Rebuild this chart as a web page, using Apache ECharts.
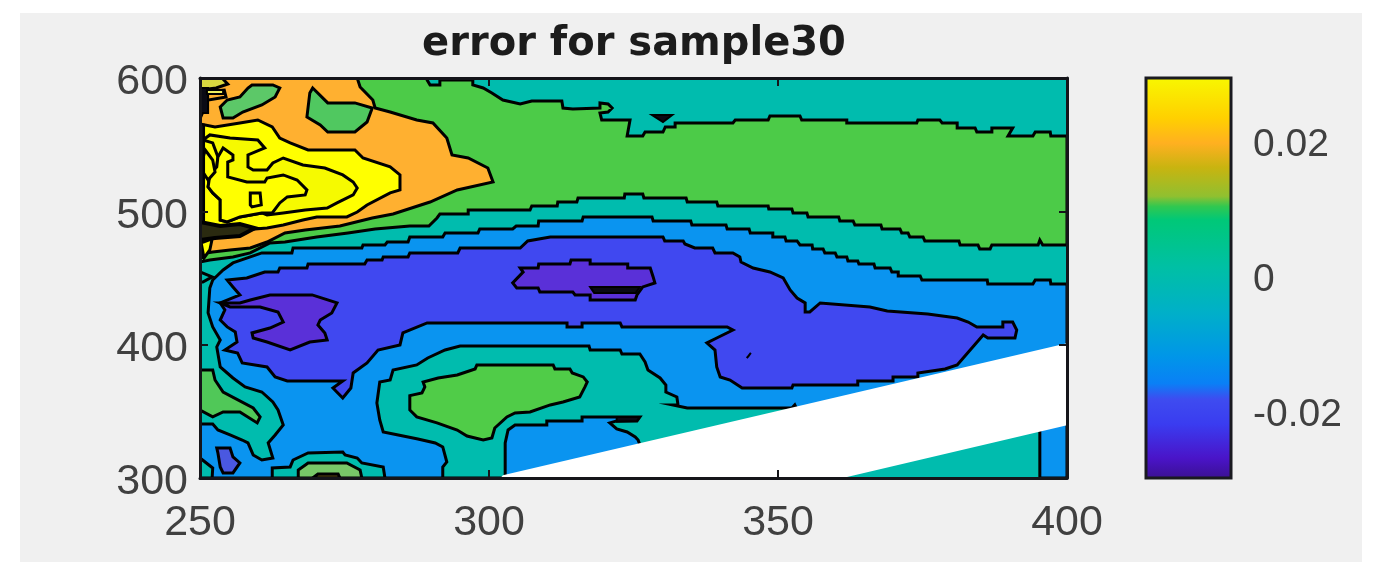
<!DOCTYPE html>
<html>
<head>
<meta charset="utf-8">
<style>
  html, body { margin: 0; background: #fff; }
  #main { width: 1380px; height: 581px; }
</style>
<script src="https://cdn.jsdelivr.net/npm/echarts@6/dist/echarts.min.js"></script>
</head>
<body>
<div id="main"></div>
<script>
// axis ticks
const xTicks = [250, 300, 350, 400];
const yTicks = [300, 400, 500, 600];
const barTicks = [-0.02, 0, 0.02];

// colour bar, value -> colour
const barValues = [-0.0296, -0.0265, -0.0215, -0.0178, -0.0155, -0.0115, -0.005, 0.0017, 0.0085, 0.0105, 0.012, 0.0162, 0.0198, 0.0235, 0.0296];
const barColors = ['#3a1090', '#4a14c8', '#3a3cf0', '#3e4cf0', '#0a80f6', '#0096e8', '#00b0c8', '#00c0a4', '#00c878', '#30c850', '#90c030', '#c8b410', '#ffb020', '#ffd000', '#f8f800'];

// filled contour outlines, [x, y]
const greenBand = [[289.3,600],[289.3,598.5],[289.8,594.8],[291.5,594.8],[291.5,598.5],[297.2,598.5],[297.2,594.8],[299,592.5],[300.5,588.8],[302.4,583.5],[305.4,580.5],[307.4,582.8],[312.6,582.8],[312.8,577.5],[314.5,576.8],[319.2,577.5],[319.2,581.3],[320.6,580.5],[321.3,577.5],[320.6,574.5],[319.2,573.8],[319.5,568.5],[324.4,568.5],[323.9,556.5],[326.6,556.5],[327,559.5],[330.1,559.5],[330.5,563.3],[332.2,563.3],[332.2,566.3],[342.2,566.3],[342.6,568.5],[348.3,568.5],[348.6,571.5],[353.8,571.5],[354.1,568.5],[361.9,568.5],[361.9,566.3],[374,566.3],[374.2,568.5],[378,568.5],[378.4,566.3],[381,566.3],[381,562.5],[384.1,562.5],[384.4,559.5],[387,559.5],[387,562.5],[390.6,562.5],[389.8,556.5],[394.1,556.5],[394.5,559.5],[397.1,559.5],[397.2,556.5],[400,556.5],
  [400,474.8],[395.8,474.8],[395.3,478.5],[395,474.8],[387,474.8],[386.7,471.8],[384.9,471.8],[384.6,474.8],[381.5,474.8],[381.3,477.8],[375.4,477.8],[375.1,480.8],[372.8,480.8],[372.5,483.8],[371.4,483.8],[371.1,486.8],[368,486.8],[367.8,489.8],[363.3,489.8],[363,492.8],[360.7,492.8],[360.5,495.8],[355.2,495.8],[355,498.8],[352.6,498.8],[352.4,501.8],[348.4,501.8],[348.3,504],[339.6,504],[339.4,507],[334.3,507],[334.1,510],[326.8,510],[326.6,513],[323.5,513],[323.4,510],[315.4,510],[315.2,507],[311.9,507],[311.8,504],[307.4,504],[307.1,501],[296.4,501],[296.4,498],[291.5,498],[291,495],[289.6,489],[286.3,489],[280.3,486.8],[275.6,483.8],[270.2,480.8],[264.7,477],[262.1,476.3],[258.7,468.8],[255.7,465.8],[251.7,463.5],[250,462],[250,600]];
const tealSpot = [[328.2,572.3],[331.7,572.3],[330.1,567]];
const orangeZone = [[277.2,600],[277.7,593.3],[279.9,583.5],[280.3,577.5],[282.9,574.5],[287.5,568.5],[290.3,566.3],[292.7,555],[293.6,542.3],[296.4,540],[299.8,532.5],[300.7,522],[294.5,516],[289.8,507],[283.4,498],[279.8,495],[274.2,489],[268.2,486],[264.7,483.8],[261.6,477],[258.7,472.5],[255.2,471],[252.2,469.5],[250,468],[250,600]];
const greenBlobA = [[259,594.8],[262.6,594.8],[263.8,592.5],[263,585.8],[260.7,579.8],[257.4,574.5],[255.7,570],[254,570],[253.5,578.3],[254.7,583.5],[256.9,585.8],[258.3,592.5]];
const greenBlobB = [[269.5,592.5],[272.1,581.3],[276.8,581.3],[279.8,577.5],[278.9,567],[276.8,559.5],[272.1,559.5],[270.8,564.8],[268.5,570.8],[269,588.8]];
const yellowZone = [[250,565.5],[252.6,563.3],[256.9,566.3],[260,568.5],[262.5,563.3],[263.8,555],[265.6,551.3],[268.7,546],[276.8,546],[278.2,540],[282.9,533.3],[284.6,527.3],[284.6,516],[282.9,513.8],[278.9,504.8],[277.2,499.5],[275.4,495.8],[270.2,495.8],[267.8,493.5],[264.4,489.8],[261.6,487.5],[257.4,486],[250,484.5]];
const yellowInner = [[250.5,553.5],[251.7,557.3],[255.2,555],[260,553.5],[261.2,547.5],[258.3,542.3],[258.3,533.3],[259.2,531],[261.6,531],[262.6,536.3],[264.4,540],[267.8,534.8],[271.6,532.5],[274.7,527.3],[276.5,522],[277.2,517.5],[276.5,512.3],[273.7,506.3],[272,502.5],[268.2,501],[264.4,498.8],[261.6,497.3],[260.7,498.8],[256.9,495.8],[254.7,492],[253.5,493.5],[253.5,508.5],[252.2,513.8],[251.4,518.3],[251.7,527.3],[252.9,533.3],[253.1,540.8],[252.2,551.3]];
const yellowPocket = [[254,547.5],[255.7,542.3],[255.7,538.5],[254.8,537],[254.8,525.8],[258.1,522],[261.2,522],[261.6,525],[264.4,527.3],[266.8,523.5],[268.5,516],[268.2,512.3],[265.1,510.8],[263.8,506.3],[262.5,498.8],[260.7,498.8],[256.9,495.8],[254.7,492],[253.5,493.5],[253.5,508.5],[252.2,513.8],[251.4,518.3],[251.7,527.3],[252.9,533.3],[253.1,540.8]];
const yellowSquare = [[258.7,513.8],[260.4,513.8],[260.6,504.8],[259,503.3],[258.7,504.8]];
const edgeLoop = [[250.9,546],[252.2,538.5],[252.6,529.5],[251.4,523.5],[250.5,529.5],[250.5,540]];
const cornerTop = [[250,600],[253.8,600],[254.8,595.5],[252.8,592.5],[250,591]];
const cornerMid = [[250.5,589.5],[254.2,591],[254.5,585.8],[251.4,583.5],[250.5,574.5]];
const cornerBar = [[250,592.5],[251.4,592.5],[251.4,573.8],[250,573.8]];
const cornerStreak = [[251.2,591],[254,591],[254,588],[251.2,588]];
const edgeBar = [[250,565],[250.7,565],[250.7,465],[250,465]];
const edgeKnot = [[250,492],[253.5,489],[256.9,490.5],[259.5,487.5],[256.9,481.5],[252.6,480],[250,478.5]];
const edgeSpot = [[250.2,476.3],[252.1,479.3],[251.7,471],[250.7,465]];
const edgeTeal = [[250,454.5],[252.1,450.8],[250.5,447],[250,447]];
const blueZone = [[251.7,442.5],[252.2,448.5],[254,456],[255.7,461.3],[258.7,465.8],[260.7,468.8],[265.9,468.8],[266.1,472.5],[278,472.5],[278.2,474.8],[282,474.8],[282.4,477],[286,477],[286.3,480.8],[292,480.8],[292.4,483.8],[298.1,483.8],[298.4,486.8],[304.1,486.8],[304.7,489],[308.5,489],[308.6,492.8],[316.1,492.8],[316.3,495.8],[328.2,495.8],[328.4,492.8],[334.9,492.8],[335.1,489.8],[341,489.8],[341.2,486.8],[345,486.8],[345.2,483.8],[349.1,483.8],[349.1,480.8],[351.2,480.8],[351.4,477.8],[353.3,477.8],[353.8,474.8],[355.9,474.8],[356,471.8],[357.8,471.8],[358.1,468.8],[359.9,468.8],[360.2,465.8],[361.9,465.8],[362.1,462.8],[363.8,462.8],[364,460.5],[366.6,460.5],[366.8,457.5],[369.4,457.5],[369.7,454.5],[370.8,454.5],[370.8,451.5],[374.6,451.5],[374.9,448.5],[386.2,448.5],[386.3,445.5],[394.1,445.5],[394.5,448.5],[397.1,448.5],[397.2,445.5],[400,445.5],
  [400,380],[302,300],[250,300],[250,340.5],[252.2,340.5],[253.1,336],[255.2,332.3],[257.3,328.5],[258.3,326.3],[259.2,317.3],[260.7,313.5],[262.6,315],[261.8,326.3],[263,332.3],[264.4,339.8],[263.5,351],[262.6,357],[260.7,364.5],[257.8,368.3],[255.7,375],[253.5,383.3],[252.9,398.3],[253.5,403.5],[252.2,413.3],[251.4,423.8]];
const leftGreen = [[250,381],[252.2,381],[252.6,373.5],[254,364.5],[259.2,352.5],[260.4,345.8],[259.9,341.3],[256.9,349.5],[254,349.5],[252.2,345.8],[250,351]];
const cornerTeal = [[250,315],[252.2,307.5],[252.1,300],[250,300]];
const lowerBlob = [[252.9,322.5],[255.2,322.5],[255.7,315.8],[256.9,311.3],[255.7,303.8],[254,303.8],[253.5,308.3],[253.1,318.8]];
const archTeal = [[262.5,300],[262.5,307.5],[265.6,308.3],[266.1,313.5],[268.7,318.8],[274.7,319.5],[275.1,317.3],[277.2,315],[278,311.3],[281.7,308.3],[282,300]];
const archGreen = [[267,300],[267,306],[268.7,311.3],[275.4,311.3],[277.7,306],[278,300]];
const archCore = [[269.5,300],[270.4,303],[273.9,303],[274.2,300]];
const indigoZone = [[254.7,448.5],[258.1,450],[261.2,454.5],[263.5,454.5],[263.8,457.5],[268.5,457.5],[268.7,460.5],[278.5,460.5],[278.9,463.5],[281.5,463.5],[281.7,465.8],[286,465.8],[286.3,468.8],[294.6,468.8],[295,472.5],[305.4,472.5],[306.7,477.8],[310.6,480.8],[330.1,480.8],[330.4,477.8],[333.6,477.8],[333.9,475.5],[335.6,472.5],[338.7,472.5],[339.1,468.8],[342.2,468.8],[343.4,465.8],[343.6,462],[345.7,457.5],[348.6,454.5],[350.9,450],[352.1,441],[353.3,435],[354.7,431.3],[354.7,424.5],[355.5,424.5],[357.3,431.3],[365.9,428.3],[368.9,425.3],[375.9,423],[381,420],[382.9,417],[384.4,413.3],[388.9,413.3],[388.9,417],[390.6,417],[391.3,411],[391,405],[386.3,405],[385.5,407.3],[381,384.8],[378.9,381.8],[374.2,378.8],[374.2,375.8],[369.9,375.8],[369.9,372.8],[363.8,372.8],[363.8,369.8],[352.6,369.8],[352.4,367.5],[343.8,367.5],[341.7,373.5],[340,375.8],[339.4,383.3],[339.1,396],[337.7,401.3],[339.4,405],[342.2,411],[341.2,413.3],[323,413.3],[322.7,416.3],[316.1,416.3],[316.1,413.3],[313.5,413.3],[313.5,416.3],[289.3,416.3],[285.1,408.8],[284.6,399.8],[280.8,396],[278.9,386.3],[276.5,378.8],[276.1,367.5],[274.7,360],[273,367.5],[274.7,372.8],[265.1,372.8],[263,375.8],[261.6,383.3],[257.3,386.3],[256.5,393.8],[254.3,396],[256.4,402],[256.1,409.5],[254.7,413.3],[253.5,418.5],[254.3,426],[253.5,431.3],[256.9,437.3],[255.7,443.3]];
const indigoDot = [[344.6,390],[345.3,393.8],[344.9,391.5]];
const purpleLeft = [[253.5,431.3],[256.9,431.3],[258.7,433.5],[262.1,437.3],[269.4,437.3],[273.7,431.3],[272.8,423.8],[270.8,418.5],[270.4,414.8],[271.6,408.8],[272,403.5],[269,402],[265.6,396],[261.6,402],[259.2,405],[259,408.8],[262.1,412.5],[264.4,417],[263.5,424.5],[260.4,428.3],[255.2,428.3]];
const purpleMid = [[305.4,457.5],[308.5,457.5],[308.6,460.5],[314,460.5],[314.2,463.5],[317.5,463.5],[317.5,460.5],[324,460.5],[324,457.5],[327.9,457.5],[328.4,450.8],[328.7,446.3],[326.6,443.3],[325.6,437.3],[325.3,433.5],[317.5,433.5],[317.5,437.3],[314.9,437.3],[314.5,439.5],[308.8,439.5],[308.5,442.5],[304.8,442.5],[304.1,446.3],[305.9,454.5]];
const purpleCore = [[317.5,443.3],[326.1,443.3],[325.4,438.8],[318.2,438.8]];
const tealIsland = [[292,300],[292,308.3],[292.7,312],[292,323.3],[290.7,326.3],[287.7,329.3],[284.3,332.3],[281.7,334.5],[281.1,343.5],[280.6,356.3],[281.1,372],[282.9,373.5],[283.4,381],[287.5,384.8],[289.4,390],[292.4,396],[295,399],[317.3,399],[317.5,396],[322.7,396],[323,393],[326.1,393],[327,387],[327.5,381],[329.6,375],[330.6,369.8],[330.6,364.5],[332.5,360.8],[332.7,354.8],[331.8,354.8],[334.3,352.5],[352.4,352.5],[352.9,354.8],[354,345],[303,300]];
const islandGreen = [[286.3,361.8],[286.3,351],[287.5,345.8],[291,341.3],[294.5,336],[296.2,331.5],[299,328.5],[300.5,330],[301,337.5],[303.1,345.8],[304.5,348.8],[307.1,349.5],[310.6,354.8],[312.8,357],[315.7,360.8],[316.6,368.3],[317,372],[316.3,375.8],[314.4,378.8],[314,381.8],[311.4,381.8],[311.1,384.8],[297.9,384.8],[297.6,381.8],[294.5,377.3],[291.2,375],[288.6,372],[288.9,368.3],[288.4,363.8]];
const islandBlue = [[302.8,300],[302.8,326.3],[303.3,336],[304.5,339.8],[310,339.8],[310,342.8],[316.1,342.8],[316.1,345.8],[326.1,345.8],[325.6,342.8],[322.1,342.8],[320.9,341.3],[322.1,336.8],[323.9,334.5],[325.3,330.8],[325.8,328.5],[326.5,320],[310,300]];
const islandKnot = [[322.1,345.8],[326.1,345.8],[325.6,342.8],[322.1,342.3]];
const cornerBlue = [[395.3,345],[400,345],[400,300],[395.3,300]];
const blankStrip = [[302,300],[302.4,302],[400,401],[400,339.6],[361.2,300]];
const fullBox = [[250,300],[400,300],[400,600],[250,600]];

const TEAL = '#00bcae';
const GREEN = '#4ccb48';
const ORANGE = '#ffb030';
const YELLOW = '#ffff00';
const BLUE = '#0a94f0';
const INDIGO = '#4048f0';
const PURPLE = '#5a30d8';
const INK = '#0a0a14';

// paint order matters, later ones sit on the earlier ones
const layers = [
  { pts: fullBox, fill: TEAL, line: 0 },
  { pts: greenBand, fill: GREEN, line: 3 },
  { pts: tealSpot, fill: INK, line: 2 },
  { pts: orangeZone, fill: ORANGE, line: 3 },
  { pts: greenBlobA, fill: '#5cc868', line: 3 },
  { pts: greenBlobB, fill: '#50c860', line: 3 },
  { pts: yellowZone, fill: YELLOW, line: 3 },
  { pts: yellowInner, fill: '#f6fa00', line: 3 },
  { pts: yellowPocket, fill: YELLOW, line: 3 },
  { pts: yellowSquare, fill: YELLOW, line: 3 },
  { pts: edgeLoop, fill: YELLOW, line: 3 },
  { pts: cornerTop, fill: '#d8d840', line: 3 },
  { pts: cornerMid, fill: ORANGE, line: 3 },
  { pts: cornerBar, fill: INK, line: 2 },
  { pts: cornerStreak, fill: '#f0f060', line: 2 },
  { pts: edgeBar, fill: INK, line: 2 },
  { pts: edgeKnot, fill: '#2a2a10', line: 4 },
  { pts: edgeSpot, fill: YELLOW, line: 3 },
  { pts: blueZone, fill: BLUE, line: 3 },
  { pts: edgeTeal, fill: TEAL, line: 3 },
  { pts: leftGreen, fill: '#50c858', line: 3 },
  { pts: cornerTeal, fill: TEAL, line: 3 },
  { pts: lowerBlob, fill: '#4a58e0', line: 3 },
  { pts: archTeal, fill: TEAL, line: 3 },
  { pts: archGreen, fill: '#78c868', line: 3 },
  { pts: archCore, fill: '#5a4a10', line: 3 },
  { pts: indigoZone, fill: INDIGO, line: 3 },
  { pts: indigoDot, fill: INDIGO, line: 2 },
  { pts: purpleLeft, fill: PURPLE, line: 3 },
  { pts: purpleMid, fill: PURPLE, line: 3 },
  { pts: purpleCore, fill: INK, line: 2 },
  { pts: tealIsland, fill: TEAL, line: 3 },
  { pts: islandGreen, fill: '#50cc48', line: 3 },
  { pts: islandBlue, fill: BLUE, line: 3 },
  { pts: islandKnot, fill: INK, line: 2 },
  { pts: cornerBlue, fill: BLUE, line: 3 },
  { pts: blankStrip, fill: '#ffffff', line: 0 }
];

const chart = echarts.init(document.getElementById('main'));

const labelFont = { fontFamily: '"Liberation Sans", sans-serif', fontSize: 43, color: '#404040' };
const boxLine = { show: true, lineStyle: { color: '#15151a', width: 3 } };
const boxTick = { show: true, inside: true, length: 8, lineStyle: { color: '#15151a', width: 2 } };

function mainX(position, showLabel) {
  return {
    type: 'value', gridIndex: 0, position: position, min: 250, max: 400, interval: 50, z: 10,
    axisLine: boxLine, axisTick: boxTick, splitLine: { show: false },
    axisLabel: Object.assign({ show: showLabel, margin: 24, customValues: xTicks, hideOverlap: false }, labelFont)
  };
}
function mainY(position, showLabel) {
  return {
    type: 'value', gridIndex: 0, position: position, min: 300, max: 600, interval: 100, z: 10,
    axisLine: boxLine, axisTick: boxTick, splitLine: { show: false },
    axisLabel: Object.assign({
      show: showLabel, margin: 12, customValues: yTicks, hideOverlap: false,
      formatter: v => `{t|${v}}`,
      rich: { t: Object.assign({ padding: [9, 0, 0, 0] }, labelFont) }
    }, labelFont)
  };
}

chart.setOption({
  animation: false,
  backgroundColor: '#ffffff',
  graphic: [{
    type: 'rect', z: -10, silent: true,
    shape: { x: 20, y: 13, width: 1342, height: 549 },
    style: { fill: '#f0f0f0' }
  }],
  title: {
    text: 'error for sample30', left: 629, top: 20, textAlign: 'center',
    textStyle: { fontFamily: '"DejaVu Sans", sans-serif', fontWeight: 'bold', fontSize: 40, color: '#1c1c1c' }
  },
  grid: [
    { left: 200, top: 78, width: 867, height: 400 },
    { left: 1146, top: 78, width: 85, height: 400 }
  ],
  xAxis: [
    mainX('bottom', true),
    mainX('top', false),
    { type: 'value', gridIndex: 1, min: 0, max: 1, show: false }
  ],
  yAxis: [
    mainY('left', true),
    mainY('right', false),
    {
      type: 'value', gridIndex: 1, position: 'right', min: barValues[0], max: barValues[barValues.length - 1],
      splitLine: { show: false }, axisLine: { show: false }, axisTick: { show: false },
      axisLabel: Object.assign({
        margin: 22, customValues: barTicks, hideOverlap: false,
        formatter: v => `{t|${v}}`,
        rich: { t: Object.assign({ padding: [5, 0, 0, 0] }, labelFont, { fontSize: 39 }) }
      }, labelFont, { fontSize: 39 })
    }
  ],
  series: [
    {
      type: 'custom', xAxisIndex: 0, yAxisIndex: 0, clip: true, silent: true,
      data: layers.map(l => l.pts[0]),
      renderItem: function (params, api) {
        const l = layers[params.dataIndex];
        return {
          type: 'polygon',
          shape: { points: l.pts.map(p => api.coord(p)) },
          style: { fill: l.fill, stroke: l.line ? '#000000' : null, lineWidth: l.line, lineJoin: 'miter' }
        };
      }
    },
    {
      type: 'custom', xAxisIndex: 2, yAxisIndex: 2, clip: false, silent: true,
      data: [[0, barValues[0]]],
      renderItem: function (params, api) {
        const lo = barValues[0], hi = barValues[barValues.length - 1];
        const a = api.coord([0, hi]), b = api.coord([1, lo]);
        const stops = barValues.map((v, i) => ({ offset: (hi - v) / (hi - lo), color: barColors[i] })).reverse();
        return {
          type: 'rect',
          shape: { x: a[0], y: a[1], width: b[0] - a[0], height: b[1] - a[1] },
          style: { fill: new echarts.graphic.LinearGradient(0, 0, 0, 1, stops), stroke: '#1a1a20', lineWidth: 3 }
        };
      }
    }
  ]
});
</script>
</body>
</html>
